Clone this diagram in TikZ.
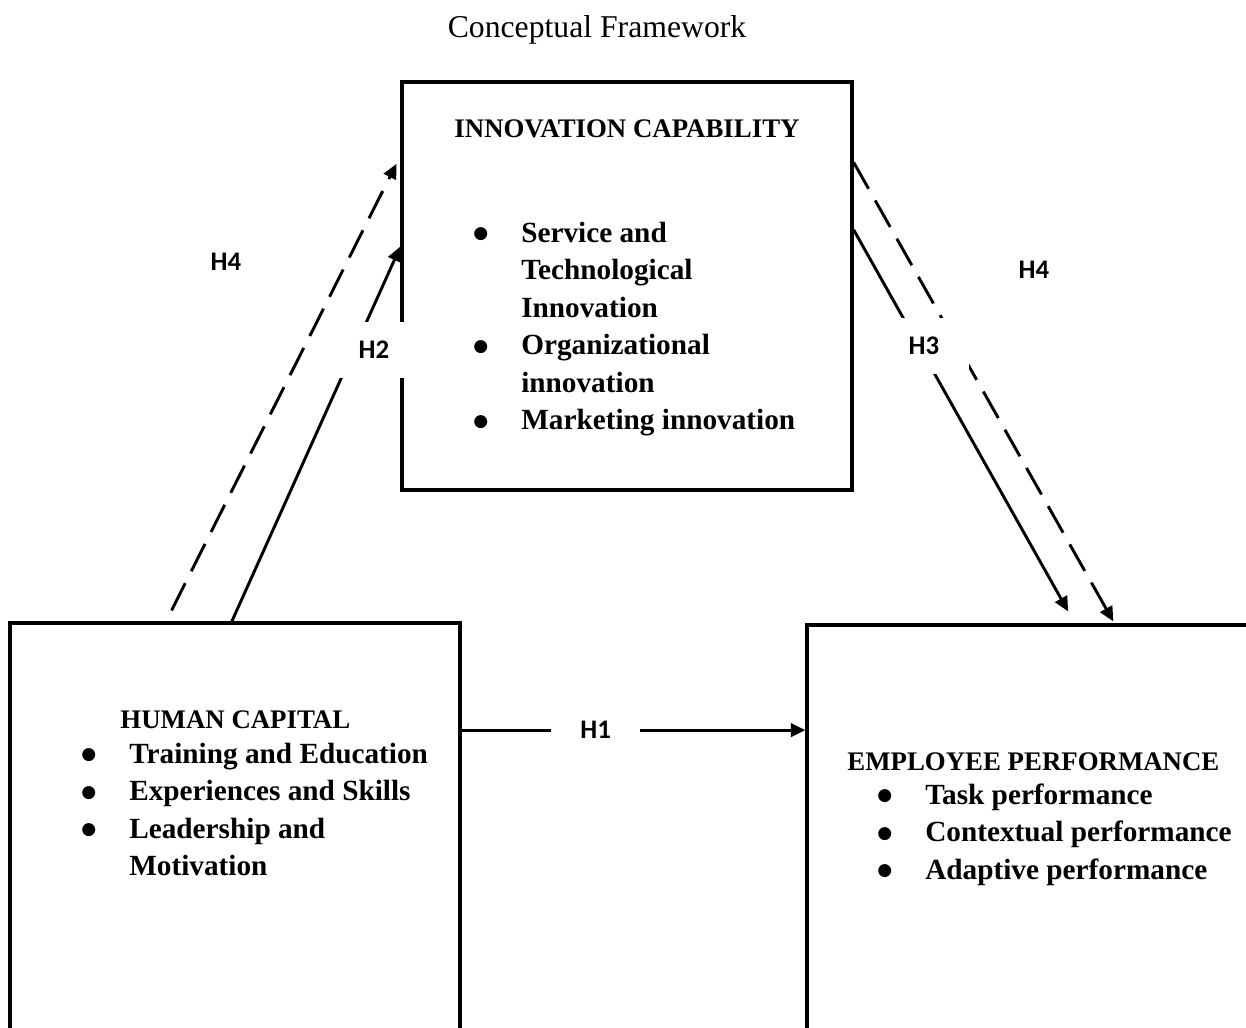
\documentclass[tikz,border=0pt]{standalone}
\usepackage{fontspec}
\setmainfont{Liberation Serif}
\newfontfamily\calfont{Carlito}
\newfontfamily\dotfont{DejaVu Sans}
\usetikzlibrary{arrows.meta,calc,fit}
\newcommand{\blt}{\raisebox{1.4pt}{\dotfont\fontsize{7}{8}\selectfont ●}}

\begin{document}
\begin{tikzpicture}[x=0.41pt,y=-0.41pt,
    box/.style={rectangle,draw,line width=1.3pt,inner sep=0pt},
    conn/.style={line width=1.2pt,-{Triangle[length=6pt,width=5.5pt]}},
    hyp/.style={fill=white,inner xsep=12pt,inner ysep=8pt,font=\calfont\bfseries\fontsize{11}{13}\selectfont},
    head/.style={inner sep=0pt,font=\bfseries\fontsize{11}{13}\selectfont},
    items/.style={inner sep=0pt,font=\bfseries\fontsize{12}{15.4}\selectfont}]
    \path[use as bounding box,clip] (0,0) rectangle (1246,1028);

    \node at (597,37) [anchor=base,inner sep=0pt,font=\fontsize{13}{15}\selectfont] (title) {Conceptual Framework};

    % the three boxes
    \node [box,fit={(402,82) (852,490)}] (ic) {};
    \node [box,fit={(10,623) (460,1060)}] (hc) {};
    \node [box,fit={(807,625) (1260,1060)}] (ep) {};

    \node at (627,137) [head,anchor=base] (ichead) {INNOVATION CAPABILITY};
    \node at (473,242) [items,anchor=base west] (icitems) {\begin{tabular}[t]{@{}p{19.6pt}@{}l@{}}
        \blt & Service and\\
             & Technological\\
             & Innovation\\
        \blt & Organizational\\
             & innovation\\
        \blt & Marketing innovation
    \end{tabular}};

    \node at (120,728) [head,anchor=base west] (hchead) {HUMAN CAPITAL};
    \node at (81,763) [items,anchor=base west] (hcitems) {\begin{tabular}[t]{@{}p{19.6pt}@{}l@{}}
        \blt & Training and Education\\
        \blt & Experiences and Skills\\
        \blt & Leadership and\\
             & Motivation
    \end{tabular}};

    \node at (847,770) [head,anchor=base west] (ephead) {EMPLOYEE PERFORMANCE};
    \node at (877,804) [items,anchor=base west] (epitems) {\begin{tabular}[t]{@{}p{19.6pt}@{}l@{}}
        \blt & Task performance\\
        \blt & Contextual performance\\
        \blt & Adaptive performance
    \end{tabular}};

    % hypotheses
    \draw [conn,dash pattern=on 12.5pt off 5.5pt] ($(hc.north west)!0.36!(hc.north east)+(0,-11)$) -- ($(ic.north west)!0.203!(ic.south west)+(-4,0)$);
    \draw [conn] ($(hc.north west)!0.493!(hc.north east)$) -- ($(ic.north west)!0.404!(ic.south west)$);
    \draw [conn] ($(ic.north east)!0.363!(ic.south east)$) -- ($(ep.north west)!0.576!(ep.north east)+(0,-12)$);
    \draw [conn,dash pattern=on 12.5pt off 5.5pt] ($(ic.north east)!0.199!(ic.south east)$) -- ($(ep.north west)!0.675!(ep.north east)+(0,-2)$);
    \draw [conn] ($(hc.north east)!0.247!(hc.south east)$) coordinate (h1s) -- node [hyp,pos=0.39] (h1) {H1} (h1s -| ep.west);

    \node at (226,262) [hyp] (h4a) {H4};
    \node at (374,350) [hyp] (h2) {H2};
    \node at (924,346) [hyp] (h3) {H3};
    \node at (1034,270) [hyp] (h4b) {H4};
\end{tikzpicture}
\end{document}
